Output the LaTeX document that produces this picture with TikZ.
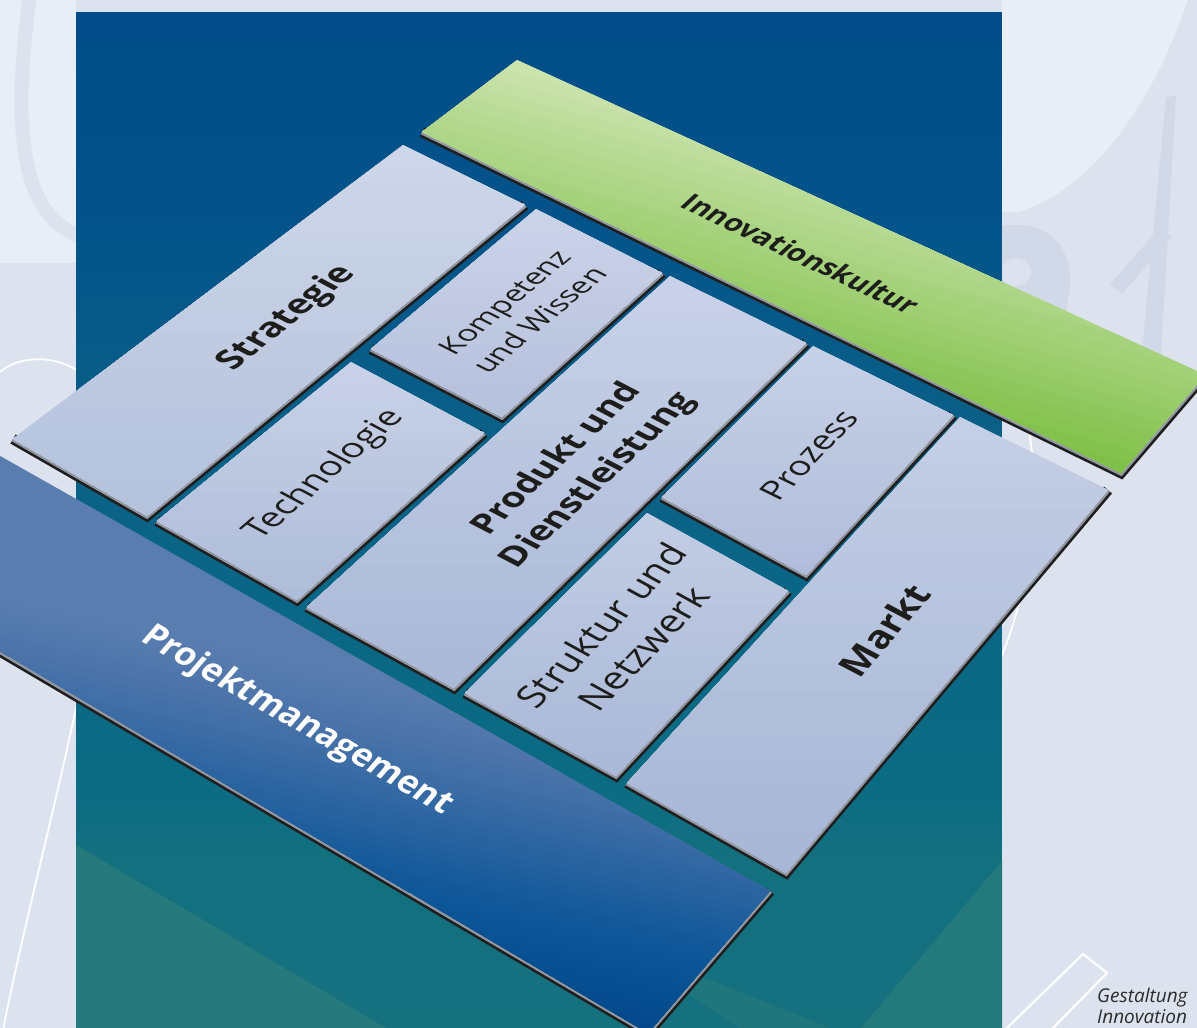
\documentclass[tikz,border=0pt]{standalone}
\usepackage{fontspec}
\setmainfont{Open Sans}
\definecolor{bgbase}{HTML}{DDE3EE}
\definecolor{wmlight}{HTML}{E9EDF5}
\definecolor{wmdark}{HTML}{D1D8E8}
\definecolor{bgA}{HTML}{16717F}
\definecolor{bgB}{HTML}{12707F}
\definecolor{bgC}{HTML}{0B6B83}
\definecolor{bgD}{HTML}{0A6686}
\definecolor{bgE}{HTML}{0A6087}
\definecolor{bgF}{HTML}{03548A}
\definecolor{bgG}{HTML}{014C89}
\definecolor{bandlight}{HTML}{277A7B}
\definecolor{sTop}{HTML}{CFD7E9}\definecolor{sBot}{HTML}{B3C1DC}
\definecolor{kTop}{HTML}{CBD3E8}\definecolor{kBot}{HTML}{B5C0DC}
\definecolor{tTop}{HTML}{C9D2E7}\definecolor{tBot}{HTML}{AEBCD9}
\definecolor{pTop}{HTML}{C9D2E7}\definecolor{pBot}{HTML}{A9B8D7}
\definecolor{zTop}{HTML}{C7D0E6}\definecolor{zBot}{HTML}{B0BDDA}
\definecolor{nTop}{HTML}{C3CDE4}\definecolor{nBot}{HTML}{A9B8D7}
\definecolor{mTop}{HTML}{C5CFE5}\definecolor{mBot}{HTML}{A6B6D5}
\definecolor{gLight}{HTML}{CDE4B0}
\definecolor{gDark}{HTML}{7DBF45}
\definecolor{pmLight}{HTML}{5A7DB0}
\definecolor{pmMidA}{HTML}{4C74AA}
\definecolor{pmMidB}{HTML}{0E5799}
\definecolor{pmDark}{HTML}{02488A}
\definecolor{shgrey}{HTML}{9297A2}
\definecolor{shblack}{HTML}{1E1E1E}
\definecolor{labelcol}{HTML}{1D1D1B}
\definecolor{logotext}{HTML}{2B2B2B}
% vertical colour ramp made of overlapping strips: x0, x1, y start, y end, colour at start, colour at end
\newcommand\gradstrips[6]{%
  \pgfmathsetmacro\ysE{#4+3}%
  \foreach \k in {0,...,19}{%
    \pgfmathsetmacro\ysA{#3+(#4-(#3))*\k/20}%
    \pgfmathsetmacro\pc{100*(\k+0.5)/20}%
    \fill[#6!\pc!#5] (#1,\ysA) rectangle (#2,\ysE);%
  }%
}
% a tile: corner prefix, x0, x1, ytop, ybottom
\newcommand\tilebox[5]{%
  \begin{scope}
    \clip (#1L) -- (#1T) -- (#1R) -- (#1B) -- cycle;
    \fill[#1Top] (#2,#4) rectangle (#3,#5);
    \gradstrips{#2}{#3}{#4}{#5}{#1Top}{#1Bot}
  \end{scope}%
}
\tikzset{
  shadowblack/.style={draw=shblack, line width=10.5pt, line join=miter},
  shadowgrey/.style={draw=shgrey, line width=5.2pt, line join=miter},
  tlabel/.style={text=labelcol, inner sep=0pt, align=center},
  wline/.style={draw=white, line width=1.8pt},
}
\begin{document}
\begin{tikzpicture}[x=1pt,y=-1pt]
\useasboundingbox (0,0) rectangle (1197,1028);
\clip (0,0) rectangle (1197,1028);
\fill[bgbase] (0,0) rectangle (1197,1028);
% watermark shapes
\fill[wmlight] (0,0) rectangle (76,263);
\draw[bgbase, line width=14pt] (30,-5) .. controls (13,120) and (18,215) .. (80,236);
\fill[wmlight] (1002,0) -- (1188,0) .. controls (1150,110) and (1090,190) .. (1018,212) -- (1002,212) -- cycle;
\fill[wmdark] (1002,226) .. controls (1050,218) and (1078,250) .. (1068,300) -- (1058,372) -- (1002,372) -- cycle;
\fill[bgbase] (1016,272) ellipse [x radius=15, y radius=14];
\fill[wmdark] (1166,97) -- (1176,96) -- (1160,372) -- (1140,372) -- cycle;
\fill[wmdark] (1110,284) -- (1156,232) -- (1172,236) -- (1122,294) -- cycle;
% white lines
\draw[wline] (0,372) .. controls (20,355) and (55,355) .. (80,372);
\draw[wline] (80,690) .. controls (50,830) and (25,920) .. (3,1030);
\draw[wline] (1028,425) .. controls (1042,500) and (1030,590) .. (998,665);
% central panel
\begin{scope}
\clip (76,12) rectangle (1002,1028);
\gradstrips{76}{1002}{12}{233}{bgG}{bgF}
\gradstrips{76}{1002}{233}{433}{bgF}{bgE}
\gradstrips{76}{1002}{433}{591}{bgE}{bgD}
\gradstrips{76}{1002}{591}{775}{bgD}{bgC}
\gradstrips{76}{1002}{775}{858}{bgC}{bgB}
\gradstrips{76}{1002}{858}{1028}{bgB}{bgA}
\fill[bandlight] (76,845) -- (386,1028) -- (76,1028) -- cycle;
\fill[bandlight!85!bgA] (1002,861) -- (861,1028) -- (1002,1028) -- cycle;
\fill[bandlight, opacity=0.6] (690,972) -- (830,1028) -- (740,1028) -- (682,990) -- cycle;
\end{scope}
% coordinates
\coordinate (jTL) at (-60,422); \coordinate (jTR) at (770,891); \coordinate (jBR) at (648,1033); \coordinate (jBL) at (-60,616);
\coordinate (gA) at (422,132); \coordinate (gB) at (517,60); \coordinate (gC) at (1205,375); \coordinate (gD) at (1121,473);
\coordinate (sL) at (13,439); \coordinate (sT) at (403,145); \coordinate (sR) at (525,205); \coordinate (sB) at (147,516);
\coordinate (kL) at (371,349); \coordinate (kT) at (536,209); \coordinate (kR) at (662,273); \coordinate (kB) at (502,417);
\coordinate (tL) at (157,521); \coordinate (tT) at (351,362); \coordinate (tR) at (484,433); \coordinate (tB) at (297,600);
\coordinate (pL) at (307,607); \coordinate (pT) at (670,276); \coordinate (pR) at (806,343); \coordinate (pB) at (454,688);
\coordinate (zL) at (662,497); \coordinate (zT) at (813,346); \coordinate (zR) at (953,415); \coordinate (zB) at (806,575);
\coordinate (nL) at (465,693); \coordinate (nT) at (647,513); \coordinate (nR) at (788,591); \coordinate (nB) at (616,776);
\coordinate (mL) at (627,783); \coordinate (mT) at (960,417); \coordinate (mR) at (1108,490); \coordinate (mB) at (786,873);
% Projektmanagement bar
\draw[shadowblack] (jBL) -- (jBR) -- (jTR);
\draw[shadowgrey] (jBL) -- (jBR) -- (jTR);
\begin{scope}
  \clip (jTL) -- (jTR) -- (jBR) -- (jBL) -- cycle;
  \begin{scope}[shift={(380,740)}, rotate=-12]
    \fill[pmLight] (-700,-320) rectangle (700,320);
    \gradstrips{-700}{700}{-61}{-8}{pmLight}{pmMidA}
    \gradstrips{-700}{700}{-8}{140}{pmMidA}{pmMidB}
    \gradstrips{-700}{700}{140}{231}{pmMidB}{pmDark}
    \fill[pmDark] (-700,233) rectangle (700,320);
  \end{scope}
\end{scope}
% Innovationskultur bar
\draw[shadowblack] (gA) -- (gD) -- (gC);
\draw[shadowgrey] (gA) -- (gD) -- (gC);
\begin{scope}
  \clip (gA) -- (gB) -- (gC) -- (gD) -- cycle;
  \begin{scope}[shift={(815,265)}, rotate=-15]
    \fill[gLight] (-700,-320) rectangle (700,320);
    \gradstrips{-700}{700}{-121}{122}{gLight}{gDark}
    \fill[gDark] (-700,124) rectangle (700,320);
  \end{scope}
\end{scope}
% tile shadows
\foreach \t in {s,k,t,p,z,n,m}{
  \draw[shadowblack] (\t L) -- (\t B) -- (\t R);
  \draw[shadowgrey] (\t L) -- (\t B) -- (\t R);
}
% tiles
\tilebox{s}{13}{525}{145}{516}
\tilebox{k}{371}{662}{209}{417}
\tilebox{t}{157}{484}{362}{600}
\tilebox{p}{307}{806}{276}{688}
\tilebox{z}{662}{953}{346}{575}
\tilebox{n}{465}{788}{513}{776}
\tilebox{m}{627}{1108}{417}{873}
% labels
\begin{scope}[shift={(287,318)}]
\node[tlabel, font=\bfseries\fontsize{35}{44}\selectfont, cm={0.786,0.619,-0.883,0.469,(0,0)}] (labStrategie) {Strategie};
\end{scope}
\begin{scope}[shift={(522,311)}]
\node[tlabel, font=\fontsize{29}{39}\selectfont, cm={0.77,0.64,-0.89,0.455,(0,0)}] (labKompetenz) {Kompetenz\\und Wissen};
\end{scope}
\begin{scope}[shift={(325,475)}]
\node[tlabel, font=\fontsize{34}{42}\selectfont, cm={0.76,0.65,-0.882,0.471,(0,0)}] (labTechnologie) {Technologie};
\end{scope}
\begin{scope}[shift={(578,470)}]
\node[tlabel, font=\bfseries\fontsize{34}{46}\selectfont, cm={0.727,0.687,-0.886,0.463,(0,0)}] (labProdukt) {Produkt und\\Dienstleistung};
\end{scope}
\begin{scope}[shift={(809,455)}]
\node[tlabel, font=\fontsize{33}{42}\selectfont, cm={0.69,0.72,-0.897,0.442,(0,0)}] (labProzess) {Prozess};
\end{scope}
\begin{scope}[shift={(622,637)}]
\node[tlabel, font=\fontsize{37}{48}\selectfont, cm={0.696,0.718,-0.876,0.483,(0,0)}] (labStruktur) {Struktur und\\Netzwerk};
\end{scope}
\begin{scope}[shift={(884,630)}]
\node[tlabel, font=\bfseries\fontsize{37}{48}\selectfont, cm={0.658,0.753,-0.884,0.466,(0,0)}] (labMarkt) {Markt};
\end{scope}
\begin{scope}[shift={(801,254)}]
\node[tlabel, font=\bfseries\fontsize{28}{36}\selectfont, cm={0.904,-0.427,0.73,0.68,(0,0)}] (labKultur) {Innovationskultur};
\end{scope}
\begin{scope}[shift={(297,721)}]
\node[tlabel, text=white, font=\bfseries\fontsize{34}{44}\selectfont, cm={0.868,-0.497,0.652,0.759,(0,0)}] (labProjekt) {Projektmanagement};
\end{scope}
% logo
\coordinate (lA) at (1007,1028); \coordinate (lB) at (1083,954); \coordinate (lC) at (1107,973); \coordinate (lD) at (1053,1028);
\draw[draw=white, line width=2.2pt, line join=miter] (lA) -- (lB) -- (lC) -- (lD);
\node[anchor=base west, inner sep=0pt, text=logotext, font=\itshape\fontsize{19}{21}\selectfont] (logoA) at (1097,1002) {Gestaltung};
\node[anchor=base west, inner sep=0pt, text=logotext, font=\itshape\fontsize{19}{21}\selectfont] (logoB) at (1097,1023) {Innovation};
\end{tikzpicture}
\end{document}
